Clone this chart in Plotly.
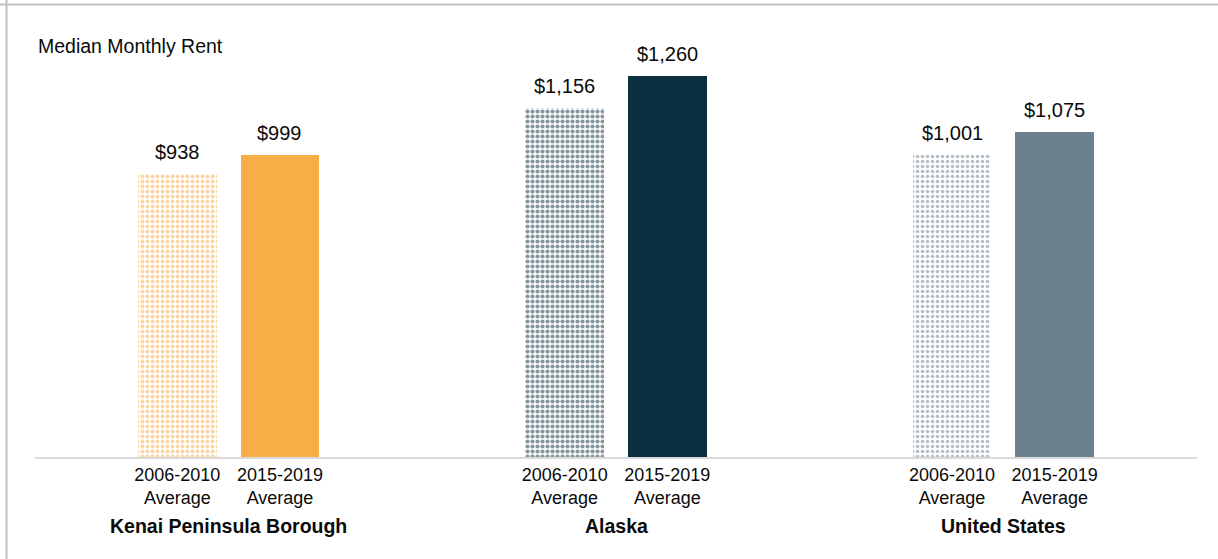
import plotly.graph_objects as go

# --- data ---------------------------------------------------------------
regions = ["Kenai Peninsula Borough", "Alaska", "United States"]
periods = ["2006-2010<br>Average", "2015-2019<br>Average"]
rent_2006_2010 = [938, 1156, 1001]
rent_2015_2019 = [999, 1260, 1075]
region_colors = ["#F7AE46", "#0A2F3E", "#6B818D"]

# --- layout constants ---------------------------------------------------
W, H = 1218, 559
M_L, M_R, M_T, M_B = 35, 21, 34, 102
PLOT_W = W - M_L - M_R
PLOT_H = H - M_T - M_B
BAR_OFFSET = 0.1325      # half distance between the two bars of a region
BAR_WIDTH = 0.2025
FONT = "Liberation Sans, Arial, sans-serif"

x_old = [i - BAR_OFFSET for i in range(len(regions))]
x_new = [i + BAR_OFFSET for i in range(len(regions))]

fig = go.Figure()

fig.add_trace(go.Bar(
    x=x_old, y=rent_2006_2010, width=BAR_WIDTH,
    marker=dict(
        color="white",
        line=dict(width=0),
        pattern=dict(shape=".", fgcolor=region_colors, bgcolor="white",
                     fillmode="overlay", size=5, solidity=[0.46, 0.55, 0.42]),
    ),
    hoverinfo="skip", showlegend=False,
))
fig.add_trace(go.Bar(
    x=x_new, y=rent_2015_2019, width=BAR_WIDTH,
    marker=dict(color=region_colors, line=dict(width=0)),
    hoverinfo="skip", showlegend=False,
))

# value labels above each bar
for xs, ys in ((x_old, rent_2006_2010), (x_new, rent_2015_2019)):
    for xv, yv in zip(xs, ys):
        fig.add_annotation(
            x=xv, y=yv, xref="x", yref="y", text=f"${yv:,}",
            showarrow=False, yanchor="bottom", yshift=9,
            font=dict(family=FONT, size=20, color="#0A0A0A"),
        )

# region names under the period labels
for i, name in enumerate(regions):
    fig.add_annotation(
        x=i, xref="x", y=-(526 - (M_T + PLOT_H)) / PLOT_H, yref="paper",
        text=f"<b>{name}</b>", showarrow=False, yanchor="middle",
        font=dict(family=FONT, size=19.5, color="#0A0A0A"),
    )

# outer frame (top and left edges)
def fx(px):
    return (px - M_L) / PLOT_W

def fy(py):
    return (M_T + PLOT_H - py) / PLOT_H

frame = dict(color="#BFBFBF", width=2)
fig.add_shape(type="line", xref="paper", yref="paper",
              x0=fx(0), x1=fx(W), y0=fy(4.5), y1=fy(4.5), line=frame)
fig.add_shape(type="line", xref="paper", yref="paper",
              x0=fx(6.5), x1=fx(6.5), y0=fy(0), y1=fy(H), line=frame)

tick_vals = []
tick_text = []
for a, b in zip(x_old, x_new):
    tick_vals += [a, b]
    tick_text += periods

fig.update_layout(
    width=W, height=H,
    margin=dict(l=M_L, r=M_R, t=M_T, b=M_B, pad=0),
    paper_bgcolor="white", plot_bgcolor="white",
    title=dict(text="Median Monthly Rent", xref="container", yref="container",
               x=38 / W, xanchor="left", y=1 - 46 / H, yanchor="middle",
               font=dict(family=FONT, size=19.5, color="#0A0A0A")),
    xaxis=dict(range=[-0.5, 2.5], tickvals=tick_vals, ticktext=tick_text,
               showgrid=False, zeroline=False, showline=True,
               linecolor="#D9D9D9", linewidth=2, ticks="",
               tickfont=dict(family=FONT, size=18, color="#0A0A0A")),
    yaxis=dict(range=[0, 1400], visible=False, showgrid=False, zeroline=False),
    bargap=0,
)

fig.write_html("out.html")
